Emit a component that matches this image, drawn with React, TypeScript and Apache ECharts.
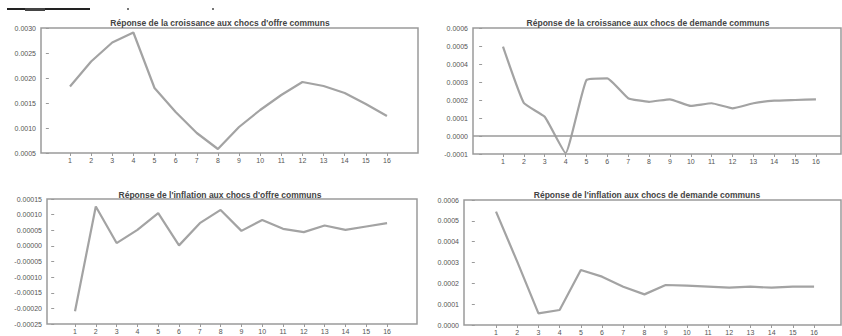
import React, { useEffect, useRef } from "react";
import * as echarts from "echarts";

const periods = [1, 2, 3, 4, 5, 6, 7, 8, 9, 10, 11, 12, 13, 14, 15, 16];

const titles = [
  "Réponse de la croissance aux chocs d'offre communs",
  "Réponse de la croissance aux chocs de demande communs",
  "Réponse de l'inflation aux chocs d'offre communs",
  "Réponse de l'inflation aux chocs de demande communs",
];

const growthSupply = [0.00183, 0.00233, 0.00271, 0.00291, 0.0018, 0.00132, 0.0009, 0.00058, 0.00102, 0.00136, 0.00166, 0.00192, 0.00184, 0.0017, 0.00148, 0.00124];
const growthDemand = [0.000496, 0.000183, 0.000107, -0.000095, 0.000311, 0.00032, 0.00021, 0.00019, 0.000204, 0.000167, 0.000182, 0.000154, 0.000182, 0.000196, 0.0002, 0.000204];
const inflationSupply = [-0.000209, 0.000126, 0.000009, 0.0000513, 0.0001045, 0.0000016, 0.0000726, 0.000115, 0.000048, 0.000083, 0.0000545, 0.000044, 0.0000653, 0.0000513, 0.000062, 0.0000726];
const inflationDemand = [0.000544, 0.000304, 0.000056, 0.000072, 0.000264, 0.000232, 0.000184, 0.000147, 0.000192, 0.000189, 0.000184, 0.000179, 0.000184, 0.000179, 0.000184, 0.000184];

const yMins = [0.0005, -0.0001, -0.00025, 0];
const yMaxs = [0.003, 0.0006, 0.00015, 0.0006];
const yIntervals = [0.0005, 0.0001, 0.00005, 0.0001];
const yDecimals = [4, 4, 5, 4];

const allSeries = [growthSupply, growthDemand, inflationSupply, inflationDemand];

const grids = [
  { left: 41, top: 28, width: 377, height: 125 },
  { left: 473, top: 28, width: 368, height: 126 },
  { left: 47, top: 199, width: 370, height: 125 },
  { left: 464, top: 200, width: 377, height: 125 },
];
const xRanges = [
  [-0.372, 17.47],
  [-0.437, 17.2],
  [-0.346, 17.44],
  [-0.51, 17.27],
];
const titlePos = [
  { x: 215, y: 19 },
  { x: 643, y: 19 },
  { x: 215, y: 191 },
  { x: 642, y: 191 },
];

const LINE = "#a3a3a3";
const FRAME = "#9a9a9a";
const TEXT = "#555";

export default function App() {
  const ref = useRef<HTMLDivElement>(null);
  useEffect(() => {
    if (!ref.current) return;
    const chart = echarts.init(ref.current, undefined, { renderer: "svg" });
    const option: any = {
      animation: false,
      backgroundColor: "#fff",
      title: titles.map((t, i) => ({
        text: t,
        left: titlePos[i].x,
        top: titlePos[i].y - 6,
        textAlign: "center",
        textStyle: { fontSize: 8.5, fontWeight: "bold", color: "#444", fontFamily: "Liberation Sans, Arial" },
      })),
      grid: grids.map((g) => ({
        ...g,
        show: true,
        borderColor: FRAME,
        borderWidth: 1.5,
        backgroundColor: "transparent",
      })),
      xAxis: grids.map((_, i) => ({
        type: "value",
        gridIndex: i,
        min: xRanges[i][0],
        max: xRanges[i][1],
        axisLine: { show: false, onZero: false },
        splitLine: { show: false },
        axisTick: { show: true, customValues: periods, length: 3, lineStyle: { color: FRAME } },
        axisLabel: {
          customValues: periods,
          fontSize: 7,
          color: TEXT,
          margin: 4,
          fontFamily: "Liberation Sans, Arial",
          formatter: (v: number) => String(Math.round(v)),
        },
      })),
      yAxis: grids.map((_, i) => ({
        type: "value",
        gridIndex: i,
        min: yMins[i],
        max: yMaxs[i],
        interval: yIntervals[i],
        axisLine: { show: false },
        splitLine: { show: false },
        axisTick: { show: true, length: 3, lineStyle: { color: FRAME } },
        axisLabel: {
          fontSize: 7,
          color: TEXT,
          margin: 5,
          fontFamily: "Liberation Sans, Arial",
          formatter: (v: number) => v.toFixed(yDecimals[i]),
        },
      })),
      series: allSeries.map((vals, i) => ({
        type: "line",
        xAxisIndex: i,
        yAxisIndex: i,
        data: vals.map((v, k) => [periods[k], v]),
        showSymbol: false,
        symbol: "none",
        smooth: i === 1 ? 0.12 : false,
        lineStyle: { color: LINE, width: 2.2 },
        markLine:
          i === 1
            ? {
                silent: true,
                symbol: "none",
                label: { show: false },
                lineStyle: { color: FRAME, width: 1.5, type: "solid" },
                data: [{ yAxis: 0 }],
              }
            : undefined,
      })),
      graphic: [
        { type: "rect", shape: { x: 7, y: 8, width: 83, height: 2 }, style: { fill: "#222" } },
        { type: "rect", shape: { x: 25, y: 8, width: 20, height: 3 }, style: { fill: "#444" } },
        { type: "rect", shape: { x: 127, y: 8, width: 2, height: 2 }, style: { fill: "#777" } },
        { type: "rect", shape: { x: 212, y: 8, width: 2, height: 2 }, style: { fill: "#777" } },
      ],
    };
    chart.setOption(option);
    return () => chart.dispose();
  }, []);
  return (
    <div
      ref={ref}
      style={{ position: "fixed", left: 0, top: 0, width: 842, height: 336, background: "#fff" }}
    />
  );
}
